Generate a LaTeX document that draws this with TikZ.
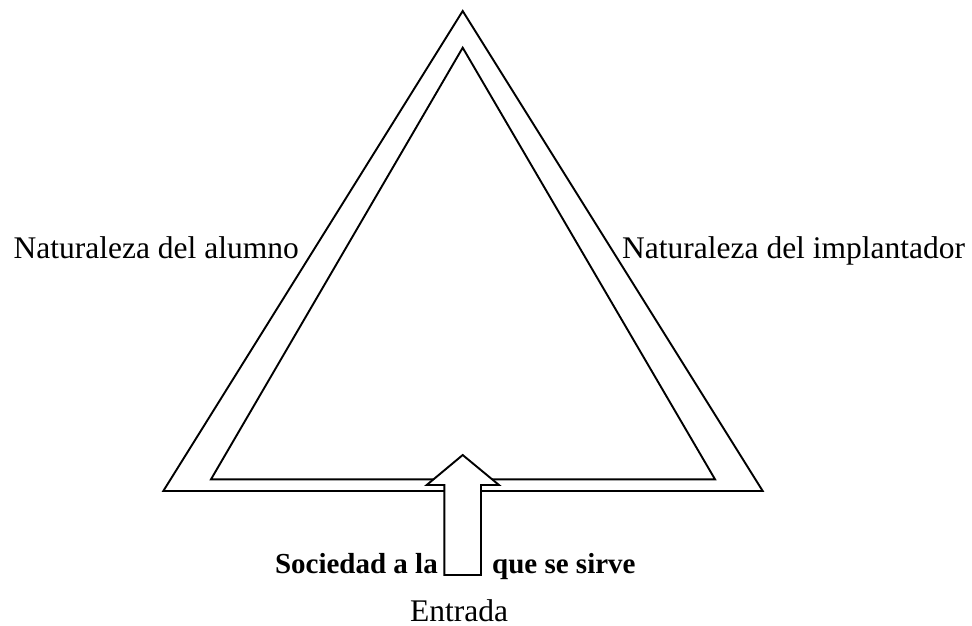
\documentclass[tikz,border=0pt]{standalone}
\usepackage{fontspec}
\setmainfont{Liberation Serif}
\begin{document}
\begin{tikzpicture}[x=1pt,y=-1pt,
  edge/.style={line width=1.9pt, line join=miter},
  lbl/.style={inner sep=0pt, font=\fontsize{31.5}{36}\selectfont},
  blbl/.style={inner sep=0pt, font=\fontsize{29}{34}\selectfont\bfseries}]
\useasboundingbox (0,0) rectangle (972,625);
% outer triangle
\coordinate (oA) at (462.7,11);
\coordinate (oL) at (163.3,491);
\coordinate (oR) at (762.7,491);
% inner triangle
\coordinate (iA) at (462.7,47.7);
\coordinate (iL) at (211,479.3);
\coordinate (iR) at (715,479.3);
\draw[edge] (oA) -- (oL) -- (oR) -- cycle;
\draw[edge] (iA) -- (iL) -- (iR) -- cycle;
% arrow
\coordinate (sBL) at (444.3,575);
\coordinate (sHL) at (444.3,485);
\coordinate (hL) at (426.7,485);
\coordinate (tip) at (462.7,455);
\coordinate (hR) at (499,485);
\coordinate (sHR) at (481,485);
\coordinate (sBR) at (481,575);
\draw[edge, fill=white] (sBL) -- (sHL) -- (hL) -- (tip) -- (hR) -- (sHR) -- (sBR) -- cycle;
% labels
\node[lbl, anchor=base east] (alumno) at (299,258) {Naturaleza del alumno};
\node[lbl, anchor=base west] (impl) at (622,258) {Naturaleza del implantador};
\node[blbl, anchor=base east] (soc) at (438,573) {Sociedad a la};
\node[blbl, anchor=base west] (que) at (492,573) {que se sirve};
\node[lbl, anchor=base, text depth=0pt] (entrada) at (459,621) {Entrada};
\end{tikzpicture}
\end{document}
